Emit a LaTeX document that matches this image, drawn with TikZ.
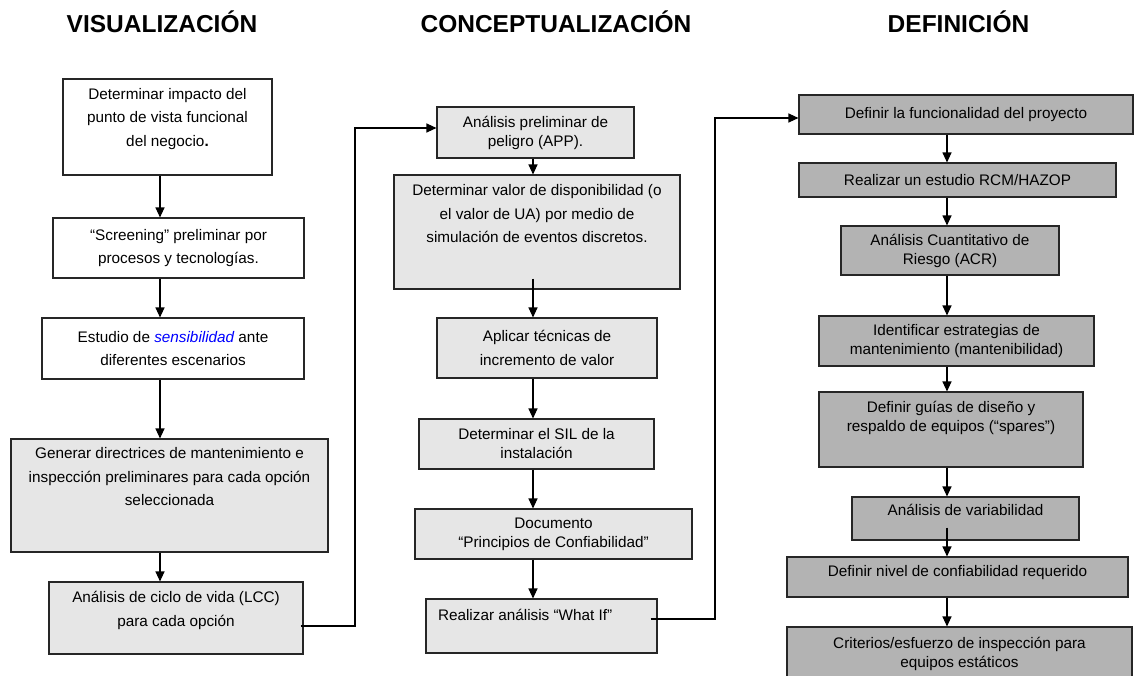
\documentclass[tikz,border=0pt]{standalone}
\usepackage{fontspec}
\setmainfont{Liberation Sans}
\usetikzlibrary{arrows.meta,calc}
\definecolor{grisclaro}{RGB}{230,230,230}
\definecolor{grisoscuro}{RGB}{179,179,179}
\newcommand{\cuerpo}{\fontsize{15.3}{23.5}\selectfont}
\newcommand{\cuerpoD}{\fontsize{15.3}{19}\selectfont}
\newcommand{\titulo}{\fontsize{24.5}{28}\selectfont\bfseries}

\begin{document}
\begin{tikzpicture}[x=1pt,y=-1pt,
  paso/.style={draw=black!85, line width=1.1pt, inner sep=0pt, align=center, font=\cuerpo},
  flecha/.style={line width=1.1pt, -{Triangle[length=10pt,width=9pt]}}]
\useasboundingbox (0,0) rectangle (1135,675);

% titulos
\node[font=\titulo, anchor=base] (tv) at (162,32) {VISUALIZACIÓN};
\node[font=\titulo, anchor=base] (tc) at (556,32) {CONCEPTUALIZACIÓN};
\node[font=\titulo, anchor=base] (td) at (958.5,32) {DEFINICIÓN};

% visualizacion
\node[paso, minimum width=209pt, minimum height=96pt] (v1) at (167.5,127)
  {\parbox[c][78pt][t]{200pt}{\centering Determinar impacto del\\ punto de vista funcional\\ del negocio\textbf{.}}};
\node[paso, minimum width=251pt, minimum height=60pt] (v2) at (178.5,248)
  {“Screening” preliminar por\\ procesos y tecnologías.};
\node[paso, minimum width=262pt, minimum height=61pt] (v3) at (173,348.5)
  {Estudio de \textcolor{blue}{\itshape sensibilidad} ante\\ diferentes escenarios};
\node[paso, fill=grisclaro, minimum width=317pt, minimum height=113pt] (v4) at (169.5,495.5)
  {\parbox[c][96pt][t]{310pt}{\centering Generar directrices de mantenimiento e\\ inspección preliminares para cada opción\\ seleccionada}};
\node[paso, fill=grisclaro, minimum width=254pt, minimum height=72pt] (v5) at (176,618)
  {\parbox[c][53pt][t]{245pt}{\centering Análisis de ciclo de vida (LCC)\\ para cada opción}};

% conceptualizacion
\node[paso, fill=grisclaro, font=\cuerpoD, minimum width=197pt, minimum height=51pt] (c1) at (535.5,132.5)
  {Análisis preliminar de\\ peligro (APP).};
\node[paso, fill=grisclaro, minimum width=286pt, minimum height=114pt] (c2) at (537,232)
  {\parbox[c][95pt][t]{280pt}{\centering Determinar valor de disponibilidad (o\\ el valor de UA) por medio de\\ simulación de eventos discretos.}};
\node[paso, fill=grisclaro, minimum width=220pt, minimum height=60pt] (c3) at (547,348)
  {Aplicar técnicas de\\ incremento de valor};
\node[paso, fill=grisclaro, font=\cuerpoD, minimum width=235pt, minimum height=50pt] (c4) at (536.5,444)
  {Determinar el SIL de la\\ instalación};
\node[paso, fill=grisclaro, font=\cuerpoD, minimum width=277pt, minimum height=50pt] (c5) at (553.5,534)
  {Documento\\ “Principios de Confiabilidad”};
\node[paso, fill=grisclaro, minimum width=231pt, minimum height=54pt] (c6) at (541.5,626)
  {\parbox[c][33pt][t]{207pt}{\raggedright Realizar análisis “What If”}};

% definicion
\node[paso, fill=grisoscuro, font=\cuerpoD, minimum width=334pt, minimum height=39pt] (d1) at (966,114.5)
  {Definir la funcionalidad del proyecto};
\node[paso, fill=grisoscuro, font=\cuerpoD, minimum width=317pt, minimum height=34pt] (d2) at (957.5,180)
  {Realizar un estudio RCM/HAZOP};
\node[paso, fill=grisoscuro, font=\cuerpoD, minimum width=218pt, minimum height=49pt] (d3) at (950,250.5)
  {Análisis Cuantitativo de\\ Riesgo (ACR)};
\node[paso, fill=grisoscuro, font=\cuerpoD, minimum width=275pt, minimum height=50pt] (d4) at (956.5,341)
  {Identificar estrategias de\\ mantenimiento (mantenibilidad)};
\node[paso, fill=grisoscuro, font=\cuerpoD, minimum width=264pt, minimum height=75pt] (d5) at (951,429.5)
  {\parbox[c][56pt][t]{258pt}{\centering Definir guías de diseño y\\ respaldo de equipos (“spares”)}};
\node[paso, fill=grisoscuro, font=\cuerpoD, minimum width=227pt, minimum height=43pt] (d6) at (965.5,518.5)
  {\parbox[c][28pt][t]{220pt}{\centering Análisis de variabilidad}};
\node[paso, fill=grisoscuro, font=\cuerpoD, minimum width=341pt, minimum height=40pt] (d7) at (957.5,577)
  {\parbox[c][23pt][t]{335pt}{\centering Definir nivel de confiabilidad requerido}};
\node[paso, fill=grisoscuro, font=\cuerpoD, minimum width=345pt, minimum height=53pt] (d8) at (959.5,653.5)
  {Criterios/esfuerzo de inspección para\\ equipos estáticos};

% ejes de las flechas
\coordinate (ejeV) at (160,0);
\coordinate (ejeC) at (533,0);
\coordinate (ejeD) at (947,0);
\coordinate (ret1) at (355,400);
\coordinate (ret2) at (715,400);

\foreach \a/\b in {v1/v2,v2/v3,v3/v4,v4/v5}
  \draw[flecha] (\a.south -| ejeV) -- (\b.north -| ejeV);
\foreach \a/\b in {c1/c2,c3/c4,c4/c5,c5/c6}
  \draw[flecha] (\a.south -| ejeC) -- (\b.north -| ejeC);
\draw[flecha] ($(c2.south -| ejeC)+(0,-11)$) -- (c3.north -| ejeC);
\foreach \a/\b in {d1/d2,d2/d3,d3/d4,d4/d5,d5/d6,d7/d8}
  \draw[flecha] (\a.south -| ejeD) -- (\b.north -| ejeD);
\draw[flecha] ($(d6.south -| ejeD)+(0,-13)$) -- (d7.north -| ejeD);

% retornos entre fases
\draw[flecha] ($(v5.east)+(-3,8)$) -| (ret1) |- ($(c1.west)+(0,-4.5)$);
\draw[flecha] ($(c6.east)+(-7,-7)$) -| (ret2) |- ($(d1.west)+(0,3.5)$);
\end{tikzpicture}
\end{document}
